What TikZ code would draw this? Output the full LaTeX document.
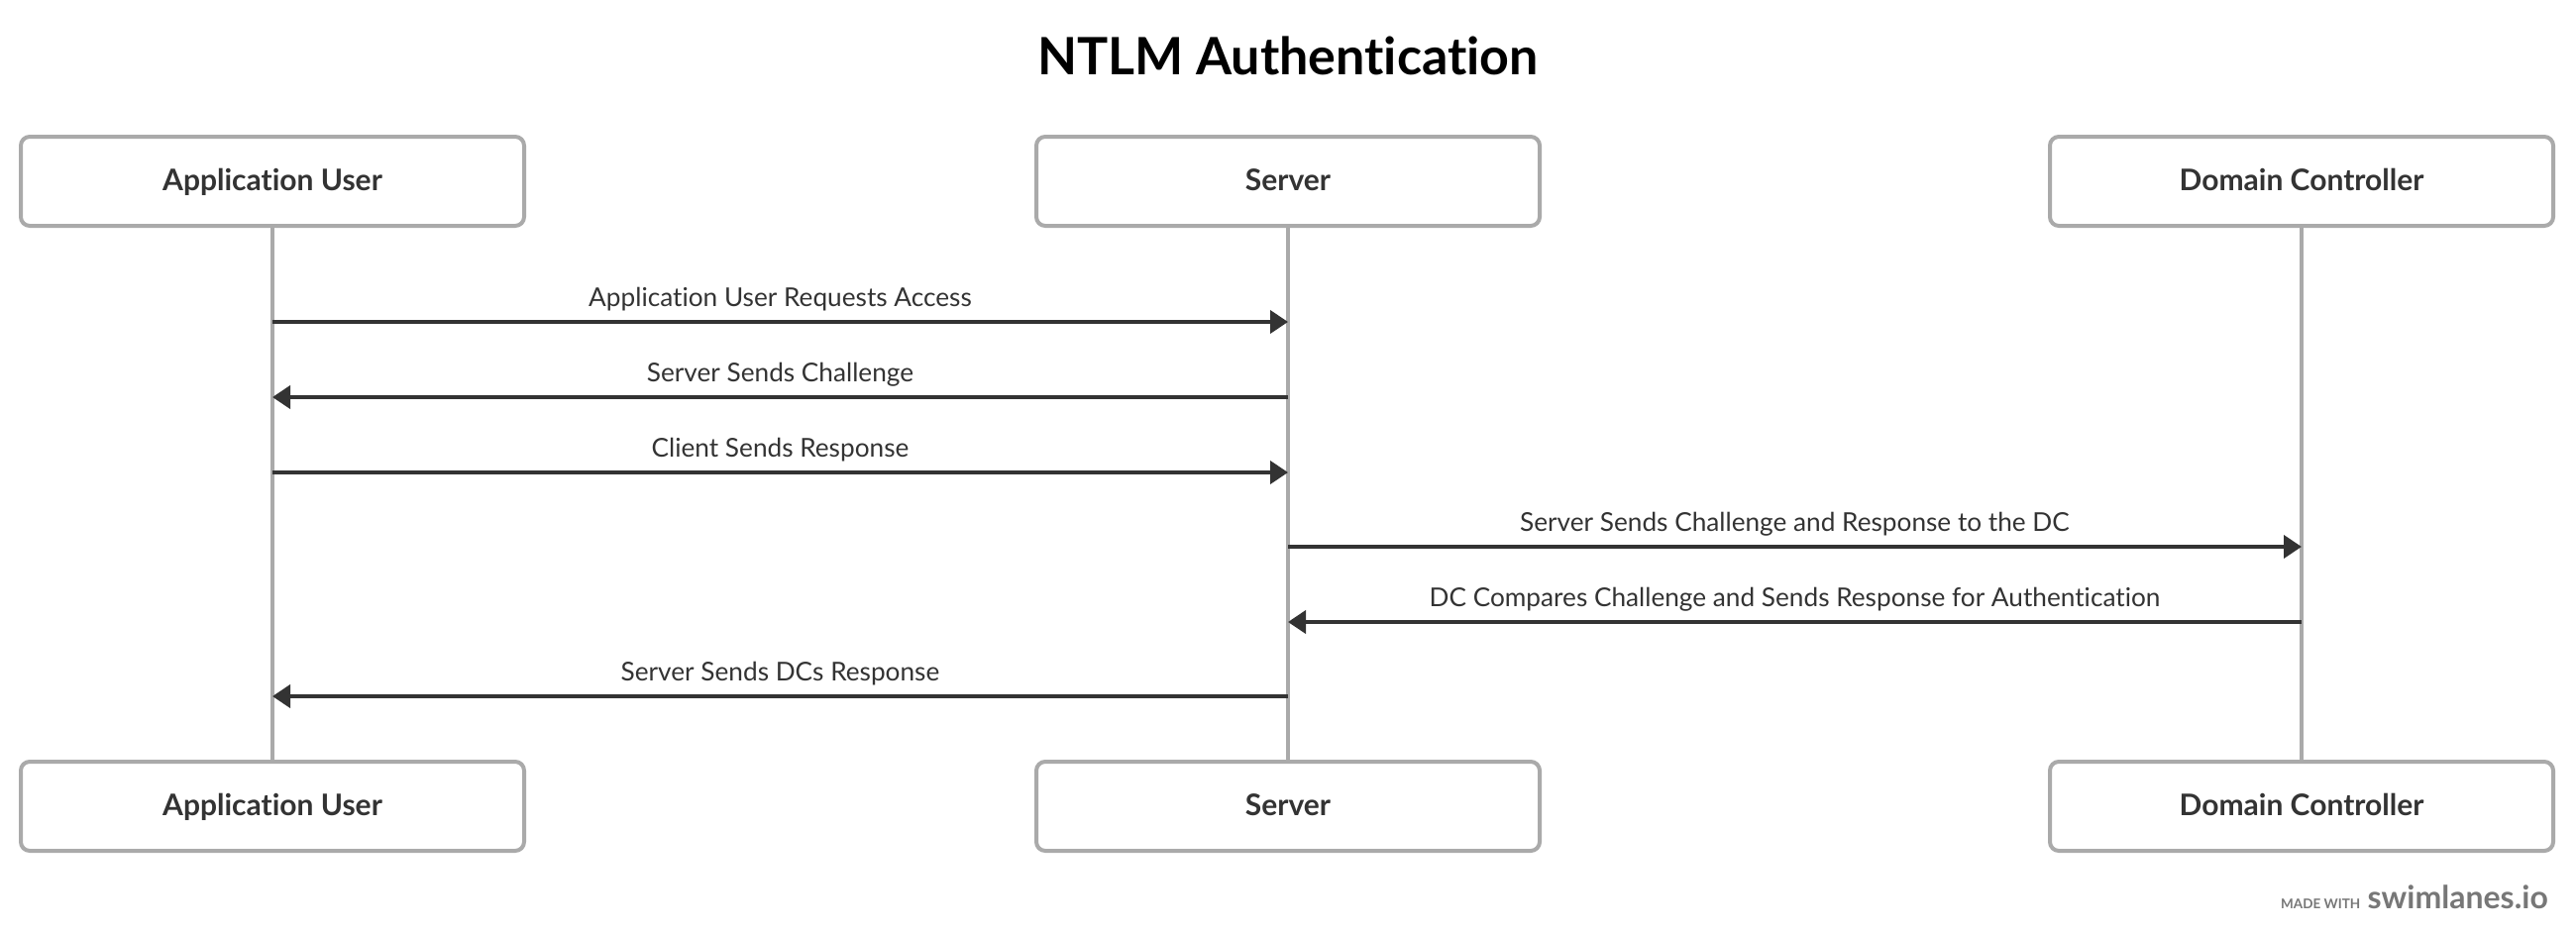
\documentclass[tikz,border=0pt]{standalone}
\usepackage{fontspec}
\setmainfont{Lato}[Ligatures={NoCommon}]
\usetikzlibrary{arrows.meta}
\definecolor{boxgray}{HTML}{AAAAAA}
\definecolor{ink}{HTML}{333333}
\definecolor{wm}{HTML}{777777}
\tikzset{
  actor/.style={draw=boxgray, line width=4pt, rounded corners=9pt, fill=white,
    minimum width=508pt, minimum height=90pt, text=ink,
    text height=24pt, text depth=5pt,
    font=\fontsize{30}{36}\selectfont\bfseries},
  lifeline/.style={draw=boxgray, line width=4pt},
  msg/.style={draw=ink, line width=4pt, -{Triangle[length=18pt,width=23pt]}},
  msglabel/.style={text=ink, font=\fontsize{26.2}{31}\selectfont, inner sep=0pt},
}
\begin{document}
\begin{tikzpicture}[x=1pt,y=-1pt]
\useasboundingbox (0,0) rectangle (2600,942);
\node[font=\fontsize{52}{62}\selectfont\bfseries] (title) at (1300,56) {NTLM Authentication};

\node[actor] (au) at (275,183) {Application User};
\node[actor] (sv) at (1300,183) {Server};
\node[actor] (dc) at (2323,183) {Domain Controller};
\node[actor] (aub) at (275,814) {Application User};
\node[actor] (svb) at (1300,814) {Server};
\node[actor] (dcb) at (2323,814) {Domain Controller};

\draw[lifeline] (au.south) -- (aub.north);
\draw[lifeline] (sv.south) -- (svb.north);
\draw[lifeline] (dc.south) -- (dcb.north);

\coordinate (a1) at (275,325);  \coordinate (s1) at (1300,325);
\coordinate (a2) at (275,401);  \coordinate (s2) at (1300,401);
\coordinate (a3) at (275,477);  \coordinate (s3) at (1300,477);
\coordinate (s4) at (1300,552); \coordinate (d4) at (2323,552);
\coordinate (s5) at (1300,628); \coordinate (d5) at (2323,628);
\coordinate (a6) at (275,703);  \coordinate (s6) at (1300,703);

\tikzset{lab/.style={msglabel, above=9pt}}
\draw[msg] (a1) -- node[lab] (l1) {Application User Requests Access} (s1);
\draw[msg] (s2) -- node[lab] (l2) {Server Sends Challenge} (a2);
\draw[msg] (a3) -- node[lab] (l3) {Client Sends Response} (s3);
\draw[msg] (s4) -- node[lab] (l4) {Server Sends Challenge and Response to the DC} (d4);
\draw[msg] (d5) -- node[lab] (l5) {DC Compares Challenge and Sends Response for Authentication} (s5);
\draw[msg] (s6) -- node[lab] (l6) {Server Sends DCs Response} (a6);

\node[anchor=base east, text=wm, font=\fontsize{32}{36}\selectfont\bfseries, inner sep=0pt] (sw) at (2572,917) {swimlanes.io};
\node[anchor=base east, text=wm, font=\fontsize{13.5}{16}\selectfont\bfseries, inner sep=0pt] (mw) at ([xshift=-7pt]sw.base west) {MADE WITH};
\end{tikzpicture}
\end{document}
